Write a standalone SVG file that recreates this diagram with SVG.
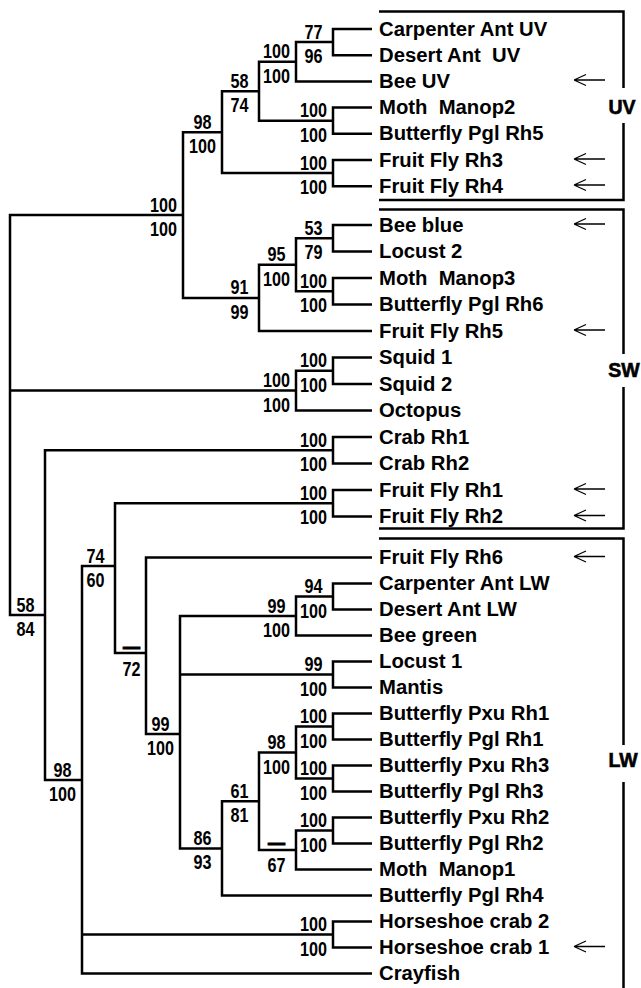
<svg xmlns="http://www.w3.org/2000/svg" xmlns:xlink="http://www.w3.org/1999/xlink" width="641" height="988" viewBox="0 0 641 988">
<style>
text{font-family:"Liberation Sans",Arial,sans-serif;font-weight:bold;fill:#000}
.leaf{font-size:20.3px}
.bs{font-size:19.5px;text-anchor:middle}
.dash{font-size:19.5px;text-anchor:middle;stroke:#000;stroke-width:1}
.grp{font-size:19.5px;text-anchor:middle;stroke:#000;stroke-width:0.6}
.br{fill:none;stroke:#000;stroke-width:2.5;stroke-linejoin:miter}
.box{fill:none;stroke:#000;stroke-width:2.5}
.arr{fill:none;stroke:#000;stroke-width:1.3}
</style>
<defs>
<path id="arrow" d="M0 0H31M0 0L12 -5.5M0 0L12 5.5"/>
</defs>
<rect width="641" height="988" fill="#fff"/>

<g id="connectors" class="br">
<path d="M372 29H333V55.2H372"/>
<path d="M333 42.1H296V81.4H372"/>
<path d="M372 107.6H333V133.8H372"/>
<path d="M296 61.75H259V120.7H333"/>
<path d="M372 160H333V186.2H372"/>
<path d="M259 91.2H222V173.1H333"/>
<path d="M372 225H333V251.5H372"/>
<path d="M372 278H333V304.5H372"/>
<path d="M333 238.25H296V291.25H333"/>
<path d="M296 264.75H259V331H372"/>
<path d="M222 132.2H183V297.9H259"/>
<path d="M372 357.5H333V384H372"/>
<path d="M333 370.75H296V410.5H372"/>
<path d="M372 437H333V463.5H372"/>
<path d="M372 490H333V516.5H372"/>
<path d="M372 583.5H333V609.5H372"/>
<path d="M333 596.5H296V635.5H372"/>
<path d="M372 661.5H333V687.5H372"/>
<path d="M372 713.5H333V739.5H372"/>
<path d="M372 765.5H333V791.5H372"/>
<path d="M333 726.5H296V778.5H333"/>
<path d="M372 817.5H333V843.5H372"/>
<path d="M333 830.5H296V869.5H372"/>
<path d="M296 752.5H259V850H296"/>
<path d="M259 801.25H222V895.5H372"/>
<path d="M296 616H180V848.4H222M180 674.5H333"/>
<path d="M372 557.5H146V734H180"/>
<path d="M333 503.25H115V653H146"/>
<path d="M372 921.5H333V947.5H372"/>
<path d="M115 566H82V973.5H372M82 934.5H333"/>
<path d="M333 450.25H45V780H82"/>
<path d="M183 215H10V615H45M10 390.6H296"/>
</g>

<g id="leaves" class="leaf">
<g id="leaf-carpenter-ant-uv"><text x="379" y="35.5">Carpenter Ant UV</text></g>
<g id="leaf-desert-ant-uv"><text x="379" y="61.7" xml:space="preserve">Desert Ant  UV</text></g>
<g id="leaf-bee-uv"><text x="379" y="87.9">Bee UV</text></g>
<g id="leaf-moth-manop2"><text x="379" y="114.1" xml:space="preserve">Moth  Manop2</text></g>
<g id="leaf-butterfly-pgl-rh5"><text x="379" y="140.3">Butterfly Pgl Rh5</text></g>
<g id="leaf-fruit-fly-rh3"><text x="379" y="166.5">Fruit Fly Rh3</text></g>
<g id="leaf-fruit-fly-rh4"><text x="379" y="192.7">Fruit Fly Rh4</text></g>
<g id="leaf-bee-blue"><text x="379" y="231.5">Bee blue</text></g>
<g id="leaf-locust-2"><text x="379" y="258">Locust 2</text></g>
<g id="leaf-moth-manop3"><text x="379" y="284.5" xml:space="preserve">Moth  Manop3</text></g>
<g id="leaf-butterfly-pgl-rh6"><text x="379" y="311">Butterfly Pgl Rh6</text></g>
<g id="leaf-fruit-fly-rh5"><text x="379" y="337.5">Fruit Fly Rh5</text></g>
<g id="leaf-squid-1"><text x="379" y="364">Squid 1</text></g>
<g id="leaf-squid-2"><text x="379" y="390.5">Squid 2</text></g>
<g id="leaf-octopus"><text x="379" y="417">Octopus</text></g>
<g id="leaf-crab-rh1"><text x="379" y="443.5">Crab Rh1</text></g>
<g id="leaf-crab-rh2"><text x="379" y="470">Crab Rh2</text></g>
<g id="leaf-fruit-fly-rh1"><text x="379" y="496.5">Fruit Fly Rh1</text></g>
<g id="leaf-fruit-fly-rh2"><text x="379" y="523">Fruit Fly Rh2</text></g>
<g id="leaf-fruit-fly-rh6"><text x="379" y="564">Fruit Fly Rh6</text></g>
<g id="leaf-carpenter-ant-lw"><text x="379" y="590">Carpenter Ant LW</text></g>
<g id="leaf-desert-ant-lw"><text x="379" y="616">Desert Ant LW</text></g>
<g id="leaf-bee-green"><text x="379" y="642">Bee green</text></g>
<g id="leaf-locust-1"><text x="379" y="668">Locust 1</text></g>
<g id="leaf-mantis"><text x="379" y="694">Mantis</text></g>
<g id="leaf-butterfly-pxu-rh1"><text x="379" y="720">Butterfly Pxu Rh1</text></g>
<g id="leaf-butterfly-pgl-rh1"><text x="379" y="746">Butterfly Pgl Rh1</text></g>
<g id="leaf-butterfly-pxu-rh3"><text x="379" y="772">Butterfly Pxu Rh3</text></g>
<g id="leaf-butterfly-pgl-rh3"><text x="379" y="798">Butterfly Pgl Rh3</text></g>
<g id="leaf-butterfly-pxu-rh2"><text x="379" y="824">Butterfly Pxu Rh2</text></g>
<g id="leaf-butterfly-pgl-rh2"><text x="379" y="850">Butterfly Pgl Rh2</text></g>
<g id="leaf-moth-manop1"><text x="379" y="876" xml:space="preserve">Moth  Manop1</text></g>
<g id="leaf-butterfly-pgl-rh4"><text x="379" y="902">Butterfly Pgl Rh4</text></g>
<g id="leaf-horseshoe-crab-2"><text x="379" y="928">Horseshoe crab 2</text></g>
<g id="leaf-horseshoe-crab-1"><text x="379" y="954">Horseshoe crab 1</text></g>
<g id="leaf-crayfish"><text x="379" y="980">Crayfish</text></g>
</g>

<g id="internal-nodes" class="bs">
<g id="n-ant-uv"><text x="313.5" y="38.6" textLength="18" lengthAdjust="spacingAndGlyphs">77</text><text x="313.5" y="63.1" textLength="18" lengthAdjust="spacingAndGlyphs">96</text></g>
<g id="n-ant-bee-uv"><text x="276.5" y="58.25" textLength="27" lengthAdjust="spacingAndGlyphs">100</text><text x="276.5" y="82.75" textLength="27" lengthAdjust="spacingAndGlyphs">100</text></g>
<g id="n-moth-bf-rh5"><text x="313.5" y="117.2" textLength="27" lengthAdjust="spacingAndGlyphs">100</text><text x="313.5" y="141.7" textLength="27" lengthAdjust="spacingAndGlyphs">100</text></g>
<g id="n-uv-hym-lep"><text x="239.5" y="87.7" textLength="18" lengthAdjust="spacingAndGlyphs">58</text><text x="239.5" y="112.2" textLength="18" lengthAdjust="spacingAndGlyphs">74</text></g>
<g id="n-ff-rh3-rh4"><text x="313.5" y="169.6" textLength="27" lengthAdjust="spacingAndGlyphs">100</text><text x="313.5" y="194.1" textLength="27" lengthAdjust="spacingAndGlyphs">100</text></g>
<g id="n-uv"><text x="202.5" y="128.7" textLength="18" lengthAdjust="spacingAndGlyphs">98</text><text x="202.5" y="153.2" textLength="27" lengthAdjust="spacingAndGlyphs">100</text></g>
<g id="n-bee-locust"><text x="313.5" y="234.75" textLength="18" lengthAdjust="spacingAndGlyphs">53</text><text x="313.5" y="259.25" textLength="18" lengthAdjust="spacingAndGlyphs">79</text></g>
<g id="n-moth-bf-rh6"><text x="313.5" y="287.75" textLength="27" lengthAdjust="spacingAndGlyphs">100</text><text x="313.5" y="312.25" textLength="27" lengthAdjust="spacingAndGlyphs">100</text></g>
<g id="n-sw-a"><text x="276.5" y="261.25" textLength="18" lengthAdjust="spacingAndGlyphs">95</text><text x="276.5" y="285.75" textLength="27" lengthAdjust="spacingAndGlyphs">100</text></g>
<g id="n-sw-b"><text x="239.5" y="294.4" textLength="18" lengthAdjust="spacingAndGlyphs">91</text><text x="239.5" y="318.9" textLength="18" lengthAdjust="spacingAndGlyphs">99</text></g>
<g id="n-insect-uv-sw"><text x="163.5" y="211.5" textLength="27" lengthAdjust="spacingAndGlyphs">100</text><text x="163.5" y="236" textLength="27" lengthAdjust="spacingAndGlyphs">100</text></g>
<g id="n-squid"><text x="313.5" y="367.25" textLength="27" lengthAdjust="spacingAndGlyphs">100</text><text x="313.5" y="391.75" textLength="27" lengthAdjust="spacingAndGlyphs">100</text></g>
<g id="n-cephalopod"><text x="276.5" y="387.1" textLength="27" lengthAdjust="spacingAndGlyphs">100</text><text x="276.5" y="411.6" textLength="27" lengthAdjust="spacingAndGlyphs">100</text></g>
<g id="n-crab"><text x="313.5" y="446.75" textLength="27" lengthAdjust="spacingAndGlyphs">100</text><text x="313.5" y="471.25" textLength="27" lengthAdjust="spacingAndGlyphs">100</text></g>
<g id="n-ff-rh1-rh2"><text x="313.5" y="499.75" textLength="27" lengthAdjust="spacingAndGlyphs">100</text><text x="313.5" y="524.25" textLength="27" lengthAdjust="spacingAndGlyphs">100</text></g>
<g id="n-ant-lw"><text x="313.5" y="593" textLength="18" lengthAdjust="spacingAndGlyphs">94</text><text x="313.5" y="617.5" textLength="27" lengthAdjust="spacingAndGlyphs">100</text></g>
<g id="n-hym-lw"><text x="276.5" y="612.5" textLength="18" lengthAdjust="spacingAndGlyphs">99</text><text x="276.5" y="637" textLength="27" lengthAdjust="spacingAndGlyphs">100</text></g>
<g id="n-locust-mantis"><text x="313.5" y="671" textLength="18" lengthAdjust="spacingAndGlyphs">99</text><text x="313.5" y="695.5" textLength="27" lengthAdjust="spacingAndGlyphs">100</text></g>
<g id="n-bf-rh1"><text x="313.5" y="723" textLength="27" lengthAdjust="spacingAndGlyphs">100</text><text x="313.5" y="747.5" textLength="27" lengthAdjust="spacingAndGlyphs">100</text></g>
<g id="n-bf-rh3"><text x="313.5" y="775" textLength="27" lengthAdjust="spacingAndGlyphs">100</text><text x="313.5" y="799.5" textLength="27" lengthAdjust="spacingAndGlyphs">100</text></g>
<g id="n-bf-rh1-rh3"><text x="276.5" y="749" textLength="18" lengthAdjust="spacingAndGlyphs">98</text><text x="276.5" y="773.5" textLength="27" lengthAdjust="spacingAndGlyphs">100</text></g>
<g id="n-bf-rh2"><text x="313.5" y="827" textLength="27" lengthAdjust="spacingAndGlyphs">100</text><text x="313.5" y="851.5" textLength="27" lengthAdjust="spacingAndGlyphs">100</text></g>
<g id="n-bf-rh2-moth"><text class="dash" x="276.5" y="849" textLength="17" lengthAdjust="spacingAndGlyphs">—</text><text x="276.5" y="872" textLength="18" lengthAdjust="spacingAndGlyphs">67</text></g>
<g id="n-lep-lw"><text x="239.5" y="797.75" textLength="18" lengthAdjust="spacingAndGlyphs">61</text><text x="239.5" y="822.25" textLength="18" lengthAdjust="spacingAndGlyphs">81</text></g>
<g id="n-lep-lw-rh4"><text x="202.5" y="844.9" textLength="18" lengthAdjust="spacingAndGlyphs">86</text><text x="202.5" y="869.4" textLength="18" lengthAdjust="spacingAndGlyphs">93</text></g>
<g id="n-lw-core"><text x="160.5" y="730.5" textLength="18" lengthAdjust="spacingAndGlyphs">99</text><text x="160.5" y="755" textLength="27" lengthAdjust="spacingAndGlyphs">100</text></g>
<g id="n-lw-rh6"><text class="dash" x="131.5" y="653" textLength="17" lengthAdjust="spacingAndGlyphs">—</text><text x="131.5" y="676" textLength="18" lengthAdjust="spacingAndGlyphs">72</text></g>
<g id="n-lw-ff12"><text x="95.5" y="562.5" textLength="18" lengthAdjust="spacingAndGlyphs">74</text><text x="95.5" y="587" textLength="18" lengthAdjust="spacingAndGlyphs">60</text></g>
<g id="n-horseshoe"><text x="313.5" y="931" textLength="27" lengthAdjust="spacingAndGlyphs">100</text><text x="313.5" y="955.5" textLength="27" lengthAdjust="spacingAndGlyphs">100</text></g>
<g id="n-arthropod-lw"><text x="62.5" y="776.5" textLength="18" lengthAdjust="spacingAndGlyphs">98</text><text x="62.5" y="801" textLength="27" lengthAdjust="spacingAndGlyphs">100</text></g>
<g id="n-arthropod"><text x="25.5" y="611.5" textLength="18" lengthAdjust="spacingAndGlyphs">58</text><text x="25.5" y="636" textLength="18" lengthAdjust="spacingAndGlyphs">84</text></g>
</g>

<g id="arrows" class="arr">
<use xlink:href="#arrow" x="574" y="80"/>
<use xlink:href="#arrow" x="574" y="159"/>
<use xlink:href="#arrow" x="574" y="185"/>
<use xlink:href="#arrow" x="574" y="224"/>
<use xlink:href="#arrow" x="574" y="330"/>
<use xlink:href="#arrow" x="574" y="489"/>
<use xlink:href="#arrow" x="574" y="515.5"/>
<use xlink:href="#arrow" x="574" y="556.5"/>
<use xlink:href="#arrow" x="574" y="946.5"/>
</g>

<g id="group-uv">
<path class="box" d="M379 11.5H623.5V88M623.5 123V200H379"/>
<text class="grp" x="622" y="113.5">UV</text>
</g>
<g id="group-sw">
<path class="box" d="M379 209.5H623.5V354M623.5 387V528.5H379"/>
<text class="grp" x="624" y="377">SW</text>
</g>
<g id="group-lw">
<path class="box" d="M379 538.5H623.5V745M623.5 782V988"/>
<text class="grp" x="623" y="767">LW</text>
</g>
</svg>
